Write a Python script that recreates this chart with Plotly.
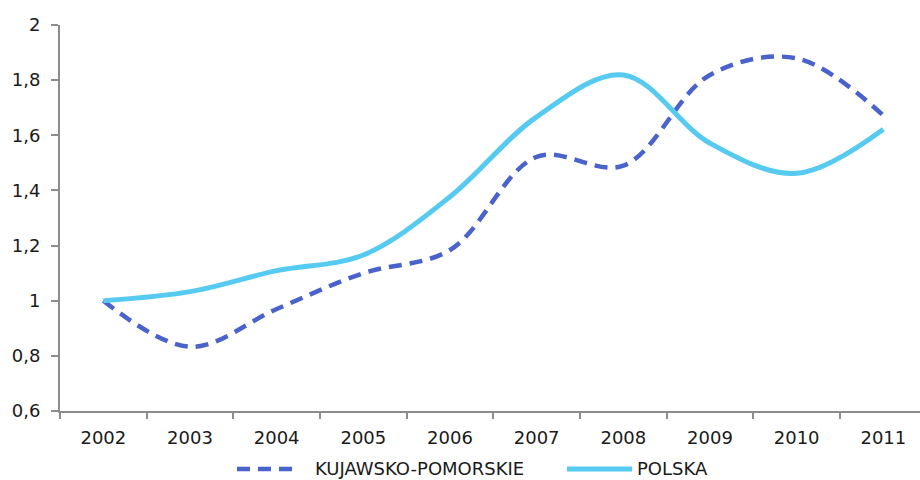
import plotly.graph_objects as go

years = ["2002", "2003", "2004", "2005", "2006", "2007", "2008", "2009", "2010", "2011"]
kujawsko_pomorskie = [1.0, 0.833, 0.97, 1.10, 1.184, 1.522, 1.49, 1.819, 1.879, 1.672]
polska = [1.0, 1.033, 1.109, 1.166, 1.377, 1.667, 1.819, 1.571, 1.462, 1.622]
y_ticks = [0.6, 0.8, 1.0, 1.2, 1.4, 1.6, 1.8, 2.0]
y_tick_labels = ["0,6", "0,8", "1", "1,2", "1,4", "1,6", "1,8", "2"]

font_family = "DejaVu Sans, Verdana, sans-serif"
axis_color = "#8c8c8c"
text_color = "#1a1a1a"
kp_color = "#4a62cb"
pl_color = "#56caf0"
kp_dash = "13px,8px"

fig = go.Figure()
fig.add_trace(go.Scatter(
    x=years, y=kujawsko_pomorskie, name="KUJAWSKO-POMORSKIE",
    mode="lines", line=dict(color=kp_color, width=4.5, dash=kp_dash,
                            shape="spline", smoothing=1.0),
))
fig.add_trace(go.Scatter(
    x=years, y=polska, name="POLSKA",
    mode="lines", line=dict(color=pl_color, width=5, shape="spline", smoothing=1.0),
))

# legend row below the axis: line samples as shapes, names as annotations
legend_y = -0.150
legend_items = [
    ("KUJAWSKO-POMORSKIE", kp_color, 4.5, kp_dash, 0.2058, 0.2709, 0.2953),
    ("POLSKA", pl_color, 5, "solid", 0.5895, 0.6651, 0.6698),
]
for label, color, width, dash, x0, x1, xt in legend_items:
    fig.add_shape(type="line", xref="paper", yref="paper",
                  x0=x0, x1=x1, y0=legend_y, y1=legend_y,
                  line=dict(color=color, width=width, dash=dash))
    fig.add_annotation(xref="paper", yref="paper", x=xt, y=legend_y,
                       xanchor="left", yanchor="middle", text=label,
                       showarrow=False, borderpad=0,
                       font=dict(size=18, color=text_color))

fig.update_layout(
    width=920, height=480,
    margin=dict(l=60, r=0, t=25, b=69, autoexpand=False),
    paper_bgcolor="white", plot_bgcolor="white",
    font=dict(family=font_family, size=18, color=text_color),
    showlegend=False,
)
fig.update_xaxes(
    type="category", range=[-0.5, 9.423],
    showline=True, linecolor=axis_color, linewidth=2,
    ticks="outside", ticklen=6, tickcolor=axis_color, tickwidth=2,
    tickson="boundaries", showgrid=False, zeroline=False,
    ticklabelstandoff=9,
)
fig.update_yaxes(
    range=[0.6, 2.0], tickvals=y_ticks, ticktext=y_tick_labels,
    showline=True, linecolor=axis_color, linewidth=2,
    ticks="outside", ticklen=7, tickcolor=axis_color, tickwidth=2,
    showgrid=False, zeroline=False, ticklabelstandoff=7,
)

fig.write_html("out.html")
